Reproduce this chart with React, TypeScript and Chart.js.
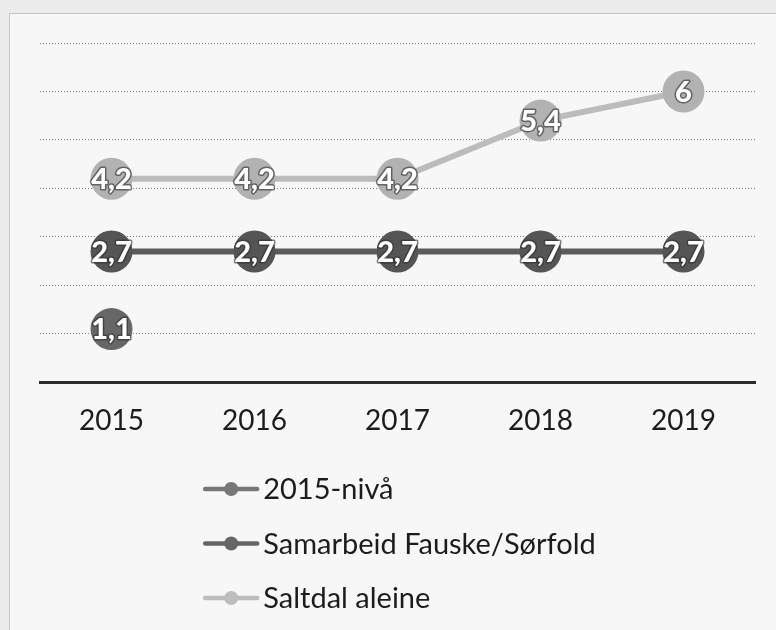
import React, { useEffect, useRef } from 'react';
import { Chart, registerables } from 'chart.js';

Chart.register(...registerables);

const years = ['2015', '2016', '2017', '2018', '2019'];
const nivaa2015: (number | null)[] = [1.1, null, null, null, null];
const samarbeid: (number | null)[] = [2.7, 2.7, 2.7, 2.7, 2.7];
const saltdal: (number | null)[] = [4.2, 4.2, 4.2, 5.4, 6];
const seriesNames = ['2015-nivå', 'Samarbeid Fauske/Sørfold', 'Saltdal aleine'];
const yMin = 0;
const yMax = 7;
const yStep = 1;

const lineColors = ['#767676', '#5c5c5c', '#bcbcbc'];
const pointColors = ['#676767', '#555555', '#b2b2b2'];
const legendColors = ['#777777', '#666666', '#bdbdbd'];

const FONT = 'Lato, "Open Sans", sans-serif';

const dataLabelPlugin = {
  id: 'dataLabels',
  afterDatasetsDraw(chart: any) {
    const ctx = chart.ctx;
    ctx.save();
    ctx.font = `900 29px ${FONT}`;
    ctx.textAlign = 'center';
    ctx.textBaseline = 'middle';
    chart.data.datasets.forEach((ds: any, i: number) => {
      const meta = chart.getDatasetMeta(i);
      meta.data.forEach((pt: any, j: number) => {
        const v = ds.data[j];
        if (v === null || v === undefined) return;
        const txt = String(v).replace('.', ',');
        ctx.lineWidth = 3;
        ctx.strokeStyle = 'rgba(45,45,45,0.6)';
        ctx.lineJoin = 'round';
        ctx.strokeText(txt, pt.x, pt.y + 1);
        ctx.fillStyle = '#ffffff';
        ctx.fillText(txt, pt.x, pt.y + 1);
      });
    });
    ctx.restore();
  },
};

const customLegendPlugin = {
  id: 'customLegend',
  afterDraw(chart: any) {
    const ctx = chart.ctx;
    const area = chart.chartArea;
    ctx.save();
    ctx.font = `29px ${FONT}`;
    const labels = chart.data.datasets.map((d: any) => d.label as string);
    const maxW = Math.max(...labels.map((l: string) => ctx.measureText(l).width));
    const markerW = 56;
    const gap = 4;
    const blockW = markerW + gap + maxW;
    const cx = (area.left + area.right) / 2 + 2;
    const x0 = cx - blockW / 2;
    const y0 = 489;
    const dy = 54.5;
    labels.forEach((l: string, i: number) => {
      const y = y0 + i * dy;
      const c = legendColors[i];
      ctx.strokeStyle = c;
      ctx.lineWidth = 4.5;
      ctx.lineCap = 'round';
      ctx.beginPath();
      ctx.moveTo(x0 + 2, y);
      ctx.lineTo(x0 + markerW - 2, y);
      ctx.stroke();
      ctx.fillStyle = c;
      ctx.beginPath();
      ctx.arc(x0 + markerW / 2, y, 7, 0, Math.PI * 2);
      ctx.fill();
      ctx.fillStyle = '#1c1c1c';
      ctx.textAlign = 'left';
      ctx.textBaseline = 'middle';
      ctx.fillText(l, x0 + markerW + gap, y + 1);
    });
    ctx.restore();
  },
};

export default function App() {
  const canvasRef = useRef<HTMLCanvasElement | null>(null);

  useEffect(() => {
    document.body.style.margin = '0';
    const canvas = canvasRef.current;
    if (!canvas) return;
    const series = [nivaa2015, samarbeid, saltdal];
    const chart = new Chart(canvas, {
      type: 'line',
      data: {
        labels: years,
        datasets: series.map((s, i) => ({
          label: seriesNames[i],
          data: s,
          borderColor: lineColors[i],
          backgroundColor: pointColors[i],
          borderWidth: 6,
          pointRadius: 21,
          pointHoverRadius: 21,
          pointBackgroundColor: pointColors[i],
          pointBorderColor: pointColors[i],
          pointBorderWidth: 0,
          tension: 0,
          spanGaps: false,
          fill: false,
        })),
      },
      options: {
        responsive: false,
        animation: false,
        devicePixelRatio: 1,
        layout: { padding: { left: 40, right: 21, top: 43, bottom: 170 } },
        plugins: {
          legend: { display: false },
          tooltip: { enabled: false },
          title: { display: false },
        },
        scales: {
          x: {
            offset: true,
            grid: { display: false, drawTicks: false },
            border: { display: true, color: '#2b2b2b', width: 3 },
            ticks: {
              padding: 22,
              color: '#1c1c1c',
              font: { family: FONT, size: 28 },
            },
          },
          y: {
            min: yMin,
            max: yMax,
            grid: { color: '#7a7a7a', lineWidth: 1, drawTicks: false },
            border: { display: false, dash: [1, 2] },
            ticks: { display: false, stepSize: yStep },
          },
        },
      },
      plugins: [dataLabelPlugin, customLegendPlugin],
    });
    return () => chart.destroy();
  }, []);

  return (
    <div style={{ position: 'relative', width: 776, height: 630, background: '#ececec', overflow: 'hidden' }}>
      <div
        style={{
          position: 'absolute',
          left: 9,
          top: 13,
          width: 767,
          height: 617,
          background: '#f7f7f7',
          borderTop: '1px solid #c4c4c4',
          borderLeft: '1px solid #c4c4c4',
        }}
      />
      <canvas ref={canvasRef} width={776} height={630} style={{ position: 'absolute', left: 0, top: 0 }} />
    </div>
  );
}
